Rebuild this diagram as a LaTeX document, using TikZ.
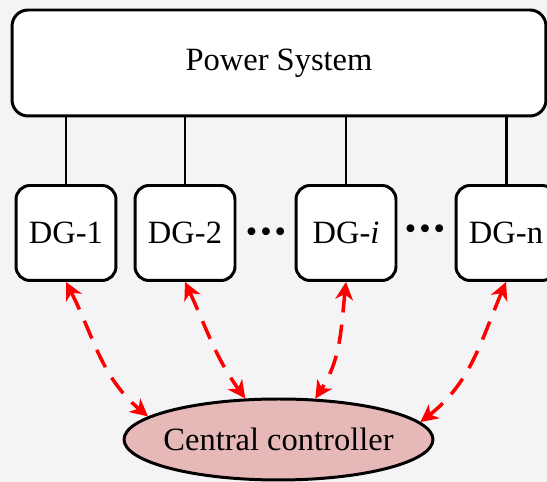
\documentclass[tikz,border=0pt]{standalone}
\usepackage{fontspec}
\setmainfont{Liberation Serif}
\usetikzlibrary{%
  arrows.meta,%
  shapes,% wg. ellipse
  calc%
}
\definecolor{bgcol}{RGB}{244,244,246}
\definecolor{ctrlfill}{RGB}{230,185,184}

\begin{document}
\begin{tikzpicture}
  [
  x=0.02cm, y=0.02cm,
  font=\fontsize{18.5}{22}\selectfont, line width=1.7pt, draw=black,
  sysnode/.style={rectangle, rounded corners=0.32cm, draw=black, fill=white, minimum width=10.68cm, minimum height=2.12cm},
  dgnode/.style={rectangle, rounded corners=0.28cm, draw=black, fill=white, minimum width=2cm, minimum height=1.9cm, inner sep=0pt},
  ctrlnode/.style={ellipse, draw=black, fill=ctrlfill, minimum width=6.18cm, minimum height=1.62cm, inner xsep=-3.5pt, inner ysep=0pt},
  link/.style={red, line width=2pt, dash pattern=on 11pt off 7pt,
    {Stealth[length=10pt,width=10pt,inset=3pt]}-{Stealth[length=10pt,width=10pt,inset=3pt]}},
  ]

  \fill[bgcol, use as bounding box] (0,0) rectangle (547,482);

  \node[sysnode] (ps) at (279,419) {Power System};

  \node[dgnode] (dg1) at (66,249) {DG-1};
  \node[dgnode] (dg2) at (185,249) {DG-2};
  \node[dgnode] (dgi) at (346,249) {DG-\textit{i}};
  \node[dgnode] (dgn) at (506,249) {DG-n};
  \node (dots1) at (266,247) {\textbullet\kern1.7pt\textbullet\kern1.7pt\textbullet};
  \node (dots2) at (425,250) {\textbullet\kern1.7pt\textbullet\kern1.7pt\textbullet};

  \foreach \dg in {dg1,dg2,dgi,dgn}
    \draw (\dg.north) -- (\dg.north |- ps.south);

  \node[ctrlnode] (ctrl) at (278.5,42.5) {Central controller};

  \draw[link] (dg1.south) to[out=-63, in=140] (ctrl.170);
  \draw[link] (dg2.south) to[out=-65, in=126] (ctrl.129);
  \draw[link] (dgi.south) to[out=-96, in=57] (ctrl.48);
  \draw[link] (dgn.south) to[out=-113, in=38] (ctrl.7);
\end{tikzpicture}
\end{document}
